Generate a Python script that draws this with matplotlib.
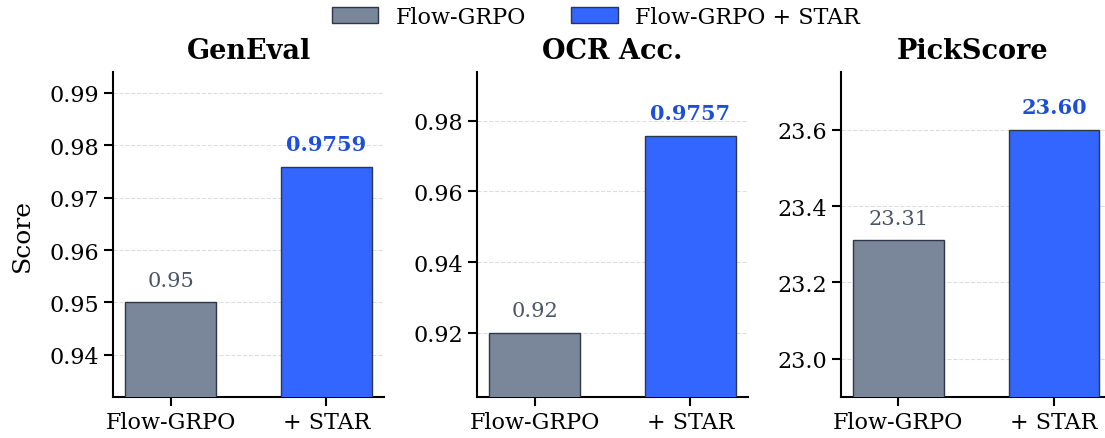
import matplotlib.pyplot as plt

plt.rcParams['font.family'] = 'DejaVu Serif'

# data
panels = ['GenEval', 'OCR Acc.', 'PickScore']
methods = ['Flow-GRPO', '+ STAR']
legend_labels = ['Flow-GRPO', 'Flow-GRPO + STAR']
base_vals = [0.95, 0.92, 23.31]
star_vals = [0.9759, 0.9757, 23.60]
base_text = ['0.95', '0.92', '23.31']
star_text = ['0.9759', '0.9757', '23.60']
ylims = [(0.932, 0.994), (0.902, 0.9937), (22.9, 23.752)]
yticks = [[0.94, 0.95, 0.96, 0.97, 0.98, 0.99],
          [0.92, 0.94, 0.96, 0.98],
          [23.0, 23.2, 23.4, 23.6]]
ytick_fmt = ['{:.2f}', '{:.2f}', '{:.1f}']

gray = '#7a8699'
blue = '#3366ff'
edge = '#2d3748'
gray_txt = '#4a5568'
blue_txt = '#1d4ed8'

W, H = 1105, 439
fig = plt.figure(figsize=(W / 100, H / 100), dpi=100)

top, bottom = 73, 397.7
lefts = [113, 477, 841]
rights = [384, 748, 1105]
xlims = [(-0.369, 1.369), (-0.369, 1.369), (-0.369, 1.328)]

handles = None
for i in range(3):
    ax = fig.add_axes([lefts[i] / W, 1 - bottom / H, (rights[i] - lefts[i]) / W, (bottom - top) / H])
    bars = ax.bar([0, 1], [base_vals[i], star_vals[i]], width=0.58,
                  color=[gray, blue], edgecolor=edge, linewidth=1.0, zorder=3)
    if handles is None:
        handles = bars
    ax.set_ylim(*ylims[i])
    ax.set_xlim(*xlims[i])
    ax.set_yticks(yticks[i])
    ax.set_yticklabels([ytick_fmt[i].format(t) for t in yticks[i]])
    ax.set_xticks([0, 1])
    ax.set_xticklabels(methods)
    ax.tick_params(labelsize=16, length=6.5, width=1.5, direction='out', colors='black')
    ax.spines['top'].set_visible(False)
    ax.spines['right'].set_visible(False)
    ax.spines['left'].set_linewidth(1.5)
    ax.spines['bottom'].set_linewidth(1.5)
    ax.grid(axis='y', linestyle='--', color='#dddddd', linewidth=0.8, zorder=0)
    ax.set_axisbelow(True)
    ax.set_title(panels[i], fontsize=19.5, fontweight='bold', pad=10)
    ax.annotate(base_text[i], (0, base_vals[i]), xytext=(0, 9), textcoords='offset points',
                ha='center', va='bottom', fontsize=15, color=gray_txt)
    ax.annotate(star_text[i], (1, star_vals[i]), xytext=(0, 9), textcoords='offset points',
                ha='center', va='bottom', fontsize=15, color=blue_txt, fontweight='bold')
    if i == 0:
        ax.set_ylabel('Score', fontsize=18, labelpad=11)

fig.legend([handles[0], handles[1]], legend_labels, loc='center', bbox_to_anchor=(596 / W, 1 - 18 / H),
           ncol=2, frameon=False, fontsize=16, columnspacing=2.0, handlelength=2.1,
           handletextpad=0.8)

fig.savefig('out.png', dpi=100)
